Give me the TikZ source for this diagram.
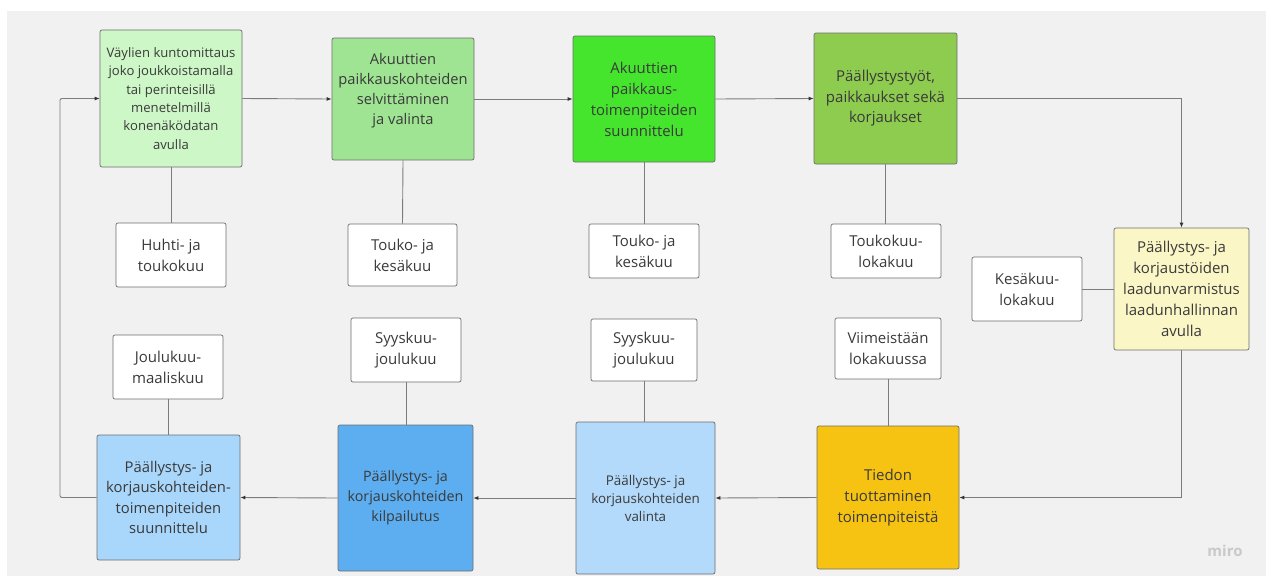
\documentclass[tikz,border=0pt]{standalone}
\usepackage{fontspec}
\setmainfont{Open Sans}
\usetikzlibrary{arrows.meta}
\definecolor{bgc}{HTML}{F1F1F1}
\definecolor{bord}{HTML}{6E6E6E}
\definecolor{linec}{HTML}{7C7C7C}
\definecolor{tipc}{HTML}{333333}
\definecolor{txt}{HTML}{3A3A3A}
\definecolor{cA}{HTML}{CDF7C6}
\definecolor{cB}{HTML}{9EE493}
\definecolor{cC}{HTML}{45E52E}
\definecolor{cD}{HTML}{8DCC4F}
\definecolor{cE}{HTML}{FBF6C6}
\definecolor{cF}{HTML}{F7C312}
\definecolor{cG}{HTML}{B3DAFB}
\definecolor{cH}{HTML}{5DAEF0}
\definecolor{cI}{HTML}{A9D6FB}
\definecolor{miroc}{HTML}{C9C9C9}
\begin{document}
\begin{tikzpicture}[x=1pt,y=-1pt,
  box/.style={draw=bord, line width=0.7pt, rounded corners=2pt, align=center,
    inner sep=1pt, text=txt, font=\fontsize{14.8}{20.5}\selectfont},
  tbox/.style={box, fill=white, font=\fontsize{15}{21}\selectfont},
  link/.style={draw=linec, line width=0.9pt},
  arr/.style={link, -{Latex[length=5pt,width=4pt,color=tipc]}}]
\useasboundingbox (0,0) rectangle (1273,576);
\fill[bgc] (7,11) rectangle (1266,576);

% process boxes
\node[box, fill=cA, minimum width=142pt, minimum height=137pt, font=\fontsize{13.1}{18.3}\selectfont] (b1) at (171,98.5)
  {Väylien kuntomittaus\\joko joukkoistamalla\\tai perinteisillä\\menetelmillä\\konenäködatan\\avulla};
\node[box, fill=cB, minimum width=142pt, minimum height=122pt, font=\fontsize{14.7}{20}\selectfont] (b2) at (403,99)
  {Akuuttien\\paikkauskohteiden\\selvittäminen\\ja valinta\\\mbox{}};
\node[box, fill=cC, minimum width=142pt, minimum height=126pt, font=\fontsize{14.9}{21}\selectfont] (b3) at (644,99)
  {Akuuttien\\paikkaus-\\toimenpiteiden\\suunnittelu};
\node[box, fill=cD, minimum width=143pt, minimum height=131pt, font=\fontsize{15}{20.5}\selectfont] (b4) at (885.5,98.5)
  {Päällystystyöt,\\paikkaukset sekä\\korjaukset};
\node[box, fill=cE, minimum width=135pt, minimum height=122pt, font=\fontsize{15}{21}\selectfont] (b5) at (1181.5,289)
  {Päällystys- ja\\korjaustöiden\\laadunvarmistus\\laadunhallinnan\\avulla};
\node[box, fill=cF, minimum width=142pt, minimum height=143pt, font=\fontsize{15}{21}\selectfont] (b6) at (888,497.5)
  {Tiedon\\tuottaminen\\toimenpiteistä};
\node[box, fill=cG, minimum width=139pt, minimum height=152pt, font=\fontsize{13.4}{18}\selectfont] (b7) at (645.5,498)
  {Päällystys- ja\\korjauskohteiden\\valinta};
\node[box, fill=cH, minimum width=135pt, minimum height=146pt, font=\fontsize{14.3}{20}\selectfont] (b8) at (405.5,498)
  {Päällystys- ja\\korjauskohteiden\\kilpailutus};
\node[box, fill=cI, minimum width=143pt, minimum height=125pt] (b9) at (168.5,497.5)
  {Päällystys- ja\\korjauskohteiden-\\toimenpiteiden\\suunnittelu};

% time boxes
\node[tbox, minimum width=110pt, minimum height=64pt] (t1) at (171,255) {Huhti- ja\\toukokuu};
\node[tbox, minimum width=109pt, minimum height=62pt] (t2) at (402.5,255) {Touko- ja\\kesäkuu};
\node[tbox, minimum width=110pt, minimum height=54pt] (t3) at (644,251) {Touko- ja\\kesäkuu};
\node[tbox, minimum width=110pt, minimum height=54pt] (t4) at (886,251) {Toukokuu-\\lokakuu};
\node[tbox, minimum width=110pt, minimum height=64pt] (t5) at (1027,289) {Kesäkuu-\\lokakuu};
\node[tbox, minimum width=106pt, minimum height=61pt] (t6) at (888,348.5) {Viimeistään\\lokakuussa};
\node[tbox, minimum width=106pt, minimum height=62pt] (t7) at (644,350) {Syyskuu-\\joulukuu};
\node[tbox, minimum width=110pt, minimum height=64pt] (t8) at (406,350) {Syyskuu-\\joulukuu};
\node[tbox, minimum width=110pt, minimum height=64pt] (t9) at (168,367) {Joulukuu-\\maaliskuu};

% time links
\draw[link] (b1.south) -- (t1.north);
\draw[link] (b2.south) -- (t2.north);
\draw[link] (b3.south) -- (t3.north);
\draw[link] (b4.south) -- (b4.south |- t4.north);
\draw[link] (t5.east) -- (b5.west |- t5.east);
\draw[link] (t6.south) -- (t6.south |- b6.north);
\draw[link] (t7.south) -- (t7.south |- b7.north);
\draw[link] (t8.south) -- (t8.south |- b8.north);
\draw[link] (t9.south) -- (t9.south |- b9.north);

% flow
\coordinate (lp) at (60,300);
\draw[arr] (b1.east) -- (b2.west);
\draw[arr] (b2.east) -- (b3.west);
\draw[arr] (b3.east) -- (b4.west);
\draw[arr] (b4.east) -| (b5.north);
\draw[arr] (b5.south) |- (b6.east);
\draw[arr] (b6.west) -- (b7.east);
\draw[arr] (b7.west) -- (b8.east);
\draw[arr] (b8.west) -- (b9.east);
\draw[arr, rounded corners=2pt] (b9.west) -| (lp) |- (b1.west);

\node[text=miroc, font=\fontsize{15}{15}\selectfont\bfseries] (miro) at (1225,551) {miro};
\end{tikzpicture}
\end{document}
